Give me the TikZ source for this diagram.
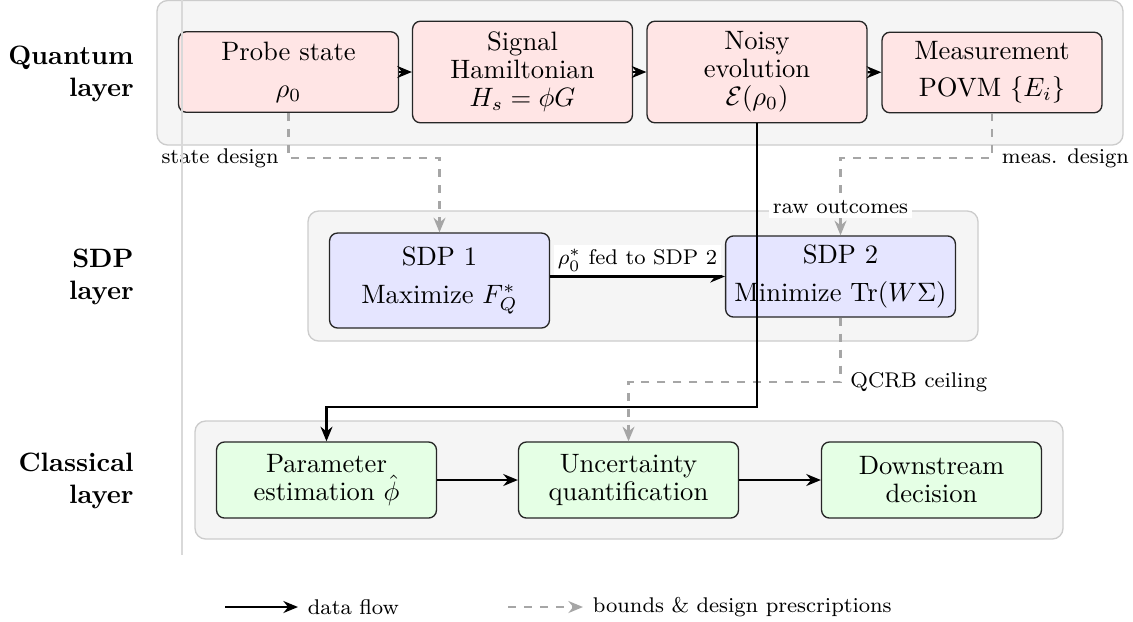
\documentclass[tikz,border=0pt]{standalone}
\usetikzlibrary{arrows.meta}
\begin{document}
\begin{tikzpicture}[x=0.376pt, y=-0.376pt,
  layerbg/.style={draw=gray!40, fill=gray!8, rounded corners=4pt, line width=0.5pt},
  box/.style={draw=black!85, rounded corners=3pt, align=center, line width=0.5pt,
    minimum width=82.7pt, font=\fontsize{10}{10.5}\selectfont},
  qbox/.style={box, fill=red!10},
  sbox/.style={box, fill=blue!10},
  cbox/.style={box, fill=green!10, minimum height=28.6pt},
  flow/.style={thick, -{Stealth[length=5.5pt,width=4.5pt]}},
  bound/.style={thick, dashed, gray!70, -{Stealth[length=5.5pt,width=4.5pt]}},
  tag/.style={font=\footnotesize, text=black},
  layername/.style={anchor=east, align=right, font=\bfseries}]

\useasboundingbox (0,0) rectangle (1133,621);

% layer backgrounds
\draw[layerbg] (157,0.5) rectangle (1123,145);
\draw[layerbg] (308,211) rectangle (978,341);
\draw[layerbg] (195,421) rectangle (1063,539);

% quantum layer
\node[qbox, minimum height=30.3pt] (probe)  at (288.5,72) {Probe state\\[3.5pt]$\rho_0$};
\node[qbox, minimum height=38.2pt] (signal) at (522.5,72) {Signal\\Hamiltonian\\$H_s=\phi G$};
\node[qbox, minimum height=38.2pt] (noisy)  at (757,72)   {Noisy\\evolution\\$\mathcal{E}(\rho_0)$};
\node[qbox, minimum height=30.3pt] (meas)   at (992,72.5) {Measurement\\[3.5pt]POVM $\{E_i\}$};

% SDP layer
\node[sbox, minimum height=35.7pt] (sdp1) at (439.5,280.5) {SDP 1\\[3.5pt]Maximize $F_Q^*$};
\node[sbox, minimum height=30.5pt] (sdp2) at (840.5,276.5) {SDP 2\\[3.5pt]Minimize $\mathrm{Tr}(W\Sigma)$};

% classical layer
\node[cbox] (param) at (326.5,480) {Parameter\\estimation $\hat{\phi}$};
\node[cbox] (unc)   at (628.5,480) {Uncertainty\\quantification};
\node[cbox] (down)  at (931.5,480) {Downstream\\decision};

% data flow inside layers
\draw[flow] (probe) -- (signal);
\draw[flow] (signal) -- (noisy);
\draw[flow] (noisy) -- (meas);
\draw[flow] (sdp1.east |- sdp2.west) -- node[above, tag, fill=white, inner sep=1.5pt] (fed) {$\rho_0^*$ fed to SDP 2} (sdp2.west);
\draw[flow] (param) -- (unc);
\draw[flow] (unc) -- (down);

% bounds and design prescriptions
\coordinate (sd) at (288.5,158);
\draw[bound] (probe.south) -- (sd) node[left, tag] (sdlbl) {state design} -| (sdp1.north);
\coordinate (md) at (992,158);
\draw[bound] (meas.south) -- (md) node[right, tag] (mdlbl) {meas. design}
  -| node[pos=0.82, tag, fill=white, inner sep=1.5pt] (raw) {raw outcomes} (sdp2.north);
\coordinate (qc) at (840.5,382);
\draw[bound] (sdp2.south) -- (qc) node[right, tag] (qclbl) {QCRB ceiling} -| (unc.north);

% raw data down to the estimator
\coordinate (rt) at (757,407);
\draw[flow] (noisy.south) -- (rt) -| (param.north);

% separator between layer names and layers
\draw[gray!30, line width=0.6pt] (182,0) -- (182,555);

% layer names
\node[layername] (lq) at (143,74)  {Quantum\\layer};
\node[layername] (ls) at (143,277) {SDP\\layer};
\node[layername] (lc) at (143,481) {Classical\\layer};

% legend
\coordinate (la) at (225,607);
\coordinate (lb) at (298,607);
\draw[flow] (la) -- (lb) node[right, tag] (lgflow) {data flow};
\coordinate (lc1) at (508,607);
\coordinate (ld1) at (583,607);
\draw[bound] (lc1) -- (ld1) node[right, tag] (lgbound) {bounds \& design prescriptions};

\end{tikzpicture}
\end{document}
